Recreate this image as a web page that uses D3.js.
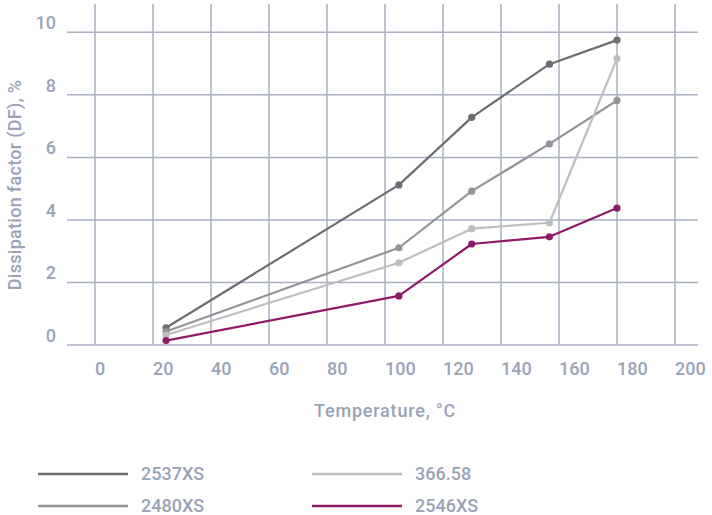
<!DOCTYPE html>
<html>
<head>
<meta charset="utf-8">
<script src="https://cdn.jsdelivr.net/npm/d3@7"></script>
<style>
  html, body { margin: 0; padding: 0; background: #fff; }
  svg { display: block; }
  text { font-family: "Roboto", sans-serif; font-weight: 500; fill: #9aa3b6; }
</style>
</head>
<body>
<svg id="chart" width="712" height="515"></svg>
<script>
// ---- data ----
const temperatures = [24.5, 104.8, 129.9, 156.7, 180];
const s2537XS = [0.55, 5.12, 7.28, 8.98, 9.75];
const s2480XS = [0.43, 3.11, 4.92, 6.43, 7.82];
const s36658  = [0.32, 2.63, 3.72, 3.91, 9.16];
const s2546XS = [0.14, 1.57, 3.23, 3.46, 4.38];
const seriesNames = ["2537XS", "2480XS", "366.58", "2546XS"];
const seriesColors = ["#6d6e71", "#929497", "#bdbec0", "#8e1a68"];
const xTicks = [0, 20, 40, 60, 80, 100, 120, 140, 160, 180, 200];
const yTicks = [0, 2, 4, 6, 8, 10];
const xTitle = "Temperature, °C";
const yTitle = "Dissipation factor (DF), %";

const seriesValues = [s2537XS, s2480XS, s36658, s2546XS];

const svg = d3.select("#chart");
const x = d3.scaleLinear().domain([0, 200]).range([95, 675]);
const y = d3.scaleLinear().domain([0, 10]).range([345, 32.3]);
const gridColor = "#a8b0c2";

// vertical gridlines
svg.append("g").selectAll("line").data(xTicks).join("line")
  .attr("x1", d => x(d)).attr("x2", d => x(d))
  .attr("y1", 4).attr("y2", y(0))
  .attr("stroke", gridColor).attr("stroke-width", 1.5);

// horizontal gridlines
svg.append("g").selectAll("line").data(yTicks).join("line")
  .attr("x1", 67).attr("x2", 698)
  .attr("y1", d => y(d)).attr("y2", d => y(d))
  .attr("stroke", gridColor).attr("stroke-width", 1.5);

// x tick labels (left-anchored at gridline)
svg.append("g").selectAll("text").data(xTicks).join("text")
  .attr("x", d => x(d)).attr("y", 375)
  .attr("text-anchor", "start")
  .attr("font-size", 18)
  .text(d => d);

// y tick labels
svg.append("g").selectAll("text").data(yTicks).join("text")
  .attr("x", 56).attr("y", d => y(d) - 3)
  .attr("text-anchor", "end")
  .attr("font-size", 18)
  .text(d => d);

// axis titles
svg.append("text").attr("x", 385).attr("y", 417)
  .attr("text-anchor", "middle").attr("font-size", 18)
  .attr("letter-spacing", 0.8).text(xTitle);
svg.append("text")
  .attr("transform", "translate(21,185) rotate(-90)")
  .attr("text-anchor", "middle").attr("font-size", 18)
  .attr("letter-spacing", 0.3).text(yTitle);

// series
const line = d3.line().x((d, i) => x(temperatures[i])).y(d => y(d));
seriesValues.forEach((vals, k) => {
  const g = svg.append("g");
  g.append("path").datum(vals)
    .attr("d", line)
    .attr("fill", "none")
    .attr("stroke", seriesColors[k])
    .attr("stroke-width", 2.2)
    .attr("stroke-linejoin", "round");
  g.selectAll("circle").data(vals).join("circle")
    .attr("cx", (d, i) => x(temperatures[i]))
    .attr("cy", d => y(d))
    .attr("r", 3.6)
    .attr("fill", seriesColors[k]);
});

// legend: 2 columns
const legendOrder = [0, 2, 1, 3];
const legendPos = [[38, 474], [312, 474], [38, 506], [312, 506]];
legendOrder.forEach((k, j) => {
  const [lx, ly] = legendPos[j];
  svg.append("line")
    .attr("x1", lx).attr("x2", lx + 90)
    .attr("y1", ly).attr("y2", ly)
    .attr("stroke", seriesColors[k]).attr("stroke-width", 2.5);
  svg.append("text")
    .attr("x", lx + 103).attr("y", ly + 6)
    .attr("font-size", 18)
    .text(seriesNames[k]);
});
</script>
</body>
</html>
